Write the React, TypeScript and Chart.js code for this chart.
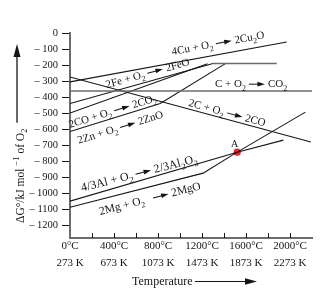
import { useEffect, useRef } from 'react';
import { Chart, registerables } from 'chart.js';

Chart.register(...registerables);

// ΔG° of oxide formation (kJ per mol O2) against temperature (°C), schematic
type Pt = [number, number];
const cuLine: Pt[] = [[0, -305], [1970, -56]];
const feLine: Pt[] = [[0, -440], [1300, -190]];
const feHigh: Pt[] = [[1300, -190], [1880, -190]];
const cToCo2: Pt[] = [[0, -362], [2200, -362]];
const cToCo: Pt[] = [[0, -275], [2190, -680]];
const coToCo2: Pt[] = [[0, -500], [1250, -192]];
const znLine: Pt[] = [[0, -615], [820, -440], [1420, -188]];
const pointA: Pt = [1520, -744];
const alLine: Pt[] = [[0, -1050], pointA, [1940, -669]];
const mgLine: Pt[] = [[0, -1088], [1210, -875], pointA, [2140, -494]];

const minorTicks = [200, 400, 600, 800, 1000, 1200, 1400, 1600, 1800, 2000];
const KELVIN = 273;

const SERIF = '"Liberation Serif", "Times New Roman", serif';
const INK = '#151515';
const GREY = '#6c6c6c';

type Tok = string | { sub: string } | { sup: string } | { arrow: number; pre?: number; post?: number };
const ARROW: Tok = { arrow: 16 };

function drawRich(ctx: CanvasRenderingContext2D, toks: Tok[], size: number) {
  let cx = 0;
  ctx.textAlign = 'left';
  ctx.textBaseline = 'alphabetic';
  for (const t of toks) {
    if (typeof t === 'string') {
      ctx.font = `${size}px ${SERIF}`;
      ctx.fillText(t, cx, 0);
      cx += ctx.measureText(t).width;
    } else if ('sub' in t) {
      ctx.font = `${size * 0.72}px ${SERIF}`;
      ctx.fillText(t.sub, cx, size * 0.3);
      cx += ctx.measureText(t.sub).width;
    } else if ('sup' in t) {
      ctx.font = `${size * 0.75}px ${SERIF}`;
      ctx.fillText(t.sup, cx, -size * 0.4);
      cx += ctx.measureText(t.sup).width;
    } else {
      cx += t.pre ?? 3;
      const ay = -size * 0.3;
      const L = t.arrow;
      ctx.beginPath();
      ctx.moveTo(cx, ay);
      ctx.lineTo(cx + L - 6, ay);
      ctx.lineWidth = 1;
      ctx.stroke();
      ctx.beginPath();
      ctx.moveTo(cx + L, ay);
      ctx.lineTo(cx + L - 7.5, ay - 2.4);
      ctx.lineTo(cx + L - 7.5, ay + 2.4);
      ctx.closePath();
      ctx.fill();
      cx += L + (t.post ?? 3);
    }
  }
  return cx;
}

interface LineLabel {
  line: Pt[];
  seg: number;
  at: number; // temperature where the text starts
  dy: number; // baseline height above the line, px
  size: number;
  adj?: number; // extra rotation, degrees
  toks: Tok[];
}

const lineLabels: LineLabel[] = [
  { line: cuLine, seg: 0, at: 930, dy: 8, size: 11, toks: ['4Cu + O', { sub: '2' }, ARROW, '2Cu', { sub: '2' }, 'O'] },
  { line: feLine, seg: 0, at: 335, dy: 5, size: 11, toks: ['2Fe + O', { sub: '2' }, ARROW, '2FeO'] },
  { line: cToCo2, seg: 0, at: 1318, dy: 3.5, size: 11, toks: ['C + O', { sub: '2' }, ARROW, 'CO', { sub: '2' }] },
  { line: cToCo, seg: 0, at: 1073, dy: 3, size: 11, toks: ['2C + O', { sub: '2' }, ARROW, '2CO'] },
  { line: znLine, seg: 0, at: 0, dy: 3.5, size: 11, toks: ['2CO + O', { sub: '2' }, ARROW, '2CO', { sub: '2' }] },
  { line: znLine, seg: 0, at: 80, dy: -15, size: 11, toks: ['2Zn + O', { sub: '2' }, ARROW, '2ZnO'] },
  { line: alLine, seg: 0, at: 110, dy: 6, size: 12, adj: 2, toks: ['4/3Al + O', { sub: '2' }, ARROW, '2/3Al', { sub: '2' }, 'O', { sub: '3' }] },
  { line: mgLine, seg: 0, at: 275, dy: -15.5, size: 11.5, toks: ['2Mg + O', { sub: '2' }, { arrow: 16, pre: 9 }, '2MgO'] },
];

const annotations = {
  id: 'ellinghamText',
  afterDraw(chart: Chart) {
    const { ctx, chartArea } = chart;
    const x = chart.scales.x;
    const y = chart.scales.y;
    ctx.save();
    ctx.fillStyle = INK;
    ctx.strokeStyle = INK;

    // inward tick marks on the temperature axis
    ctx.lineWidth = 1;
    for (const v of minorTicks) {
      const px = Math.round(x.getPixelForValue(v)) + 0.5;
      ctx.beginPath();
      ctx.moveTo(px, chartArea.bottom);
      ctx.lineTo(px, chartArea.bottom - 5);
      ctx.stroke();
    }

    // reaction labels along their lines
    for (const l of lineLabels) {
      const a = l.line[l.seg];
      const b = l.line[l.seg + 1];
      const ax = x.getPixelForValue(a[0]);
      const ay = y.getPixelForValue(a[1]);
      const bx = x.getPixelForValue(b[0]);
      const by = y.getPixelForValue(b[1]);
      const px = x.getPixelForValue(l.at);
      const py = ay + ((by - ay) * (px - ax)) / (bx - ax);
      const ang = Math.atan2(by - ay, bx - ax) + ((l.adj ?? 0) * Math.PI) / 180;
      ctx.save();
      ctx.translate(px, py - l.dy);
      ctx.rotate(ang);
      drawRich(ctx, l.toks, l.size);
      ctx.restore();
    }

    // point A
    const pa = x.getPixelForValue(pointA[0]);
    const pb = y.getPixelForValue(pointA[1]);
    ctx.font = `10px ${SERIF}`;
    ctx.textAlign = 'center';
    ctx.textBaseline = 'alphabetic';
    ctx.fillText('A', pa - 2.5, pb - 5);

    // vertical axis title with an upward arrow
    ctx.save();
    ctx.translate(24, 223);
    ctx.rotate(-Math.PI / 2);
    const w = drawRich(ctx, ['ΔG°/kJ mol ', { sup: '−1' }, ' of O', { sub: '2' }], 11.5);
    ctx.restore();
    const tail = 223 - w - 6;
    ctx.lineWidth = 1.3;
    ctx.beginPath();
    ctx.moveTo(17, tail);
    ctx.lineTo(17, 54);
    ctx.stroke();
    ctx.beginPath();
    ctx.moveTo(17, 44);
    ctx.lineTo(13.5, 57);
    ctx.lineTo(20.5, 57);
    ctx.closePath();
    ctx.fill();

    // horizontal axis title with a rightward arrow
    ctx.font = `12px ${SERIF}`;
    ctx.textAlign = 'left';
    ctx.fillText('Temperature', 132, 285);
    ctx.lineWidth = 1.2;
    ctx.beginPath();
    ctx.moveTo(195, 281.5);
    ctx.lineTo(248, 281.5);
    ctx.stroke();
    ctx.beginPath();
    ctx.moveTo(257, 281.5);
    ctx.lineTo(245, 278.3);
    ctx.lineTo(245, 284.7);
    ctx.closePath();
    ctx.fill();

    ctx.restore();
  },
};

const toXY = (pts: Pt[]) => pts.map(([t, g]) => ({ x: t, y: g }));

const lineSet = (pts: Pt[], color: string, width: number) => ({
  data: toXY(pts),
  showLine: true,
  borderColor: color,
  borderWidth: width,
  pointRadius: 0,
  fill: false,
  tension: 0,
});

export default function App() {
  const ref = useRef<HTMLCanvasElement | null>(null);

  useEffect(() => {
    if (!ref.current) return;
    const chart = new Chart(ref.current, {
      type: 'scatter',
      data: {
        datasets: [
          lineSet(cToCo2, GREY, 1.6),
          lineSet(feHigh, GREY, 1.6),
          lineSet(cuLine, INK, 1.1),
          lineSet(feLine, INK, 1.1),
          lineSet(cToCo, INK, 1.1),
          lineSet(coToCo2, INK, 1.1),
          lineSet(znLine, INK, 1.1),
          lineSet(alLine, INK, 1.1),
          lineSet(mgLine, INK, 1.1),
          {
            data: toXY([pointA]),
            pointRadius: 3.6,
            pointBackgroundColor: '#ee2026',
            pointBorderWidth: 0,
            showLine: false,
          },
        ],
      },
      options: {
        animation: false,
        responsive: false,
        devicePixelRatio: 1,
        layout: { padding: { top: 33, right: 13, left: 0, bottom: 0 } },
        plugins: { legend: { display: false }, tooltip: { enabled: false } },
        scales: {
          x: {
            type: 'linear',
            min: 0,
            max: 2200,
            afterFit: (s: any) => {
              s.height = 55;
            },
            grid: { display: false },
            border: { display: true, color: GREY, width: 2 },
            ticks: {
              stepSize: 200,
              autoSkip: false,
              maxRotation: 0,
              padding: -8,
              color: INK,
              font: { family: SERIF, size: 11, lineHeight: 1.5 },
              callback: (v: any) => (Number(v) % 400 === 0 ? [`${v}°C`, `${Number(v) + KELVIN} K`] : ''),
            },
          },
          y: {
            type: 'linear',
            min: -1280,
            max: 0,
            afterFit: (s: any) => {
              s.width = 70;
            },
            grid: { drawOnChartArea: false, drawTicks: true, tickLength: 8, color: INK },
            border: { display: true, color: GREY, width: 2 },
            ticks: {
              stepSize: 100,
              includeBounds: false,
              padding: 4,
              color: INK,
              font: { family: SERIF, size: 10.5 },
              callback: (v: any) => (Number(v) === 0 ? '0' : `– ${-Number(v)}`),
            },
          },
        },
      },
      plugins: [annotations],
    });
    return () => chart.destroy();
  }, []);

  return (
    <div style={{ position: 'absolute', left: 0, top: 0, width: 325, height: 293, background: '#fff' }}>
      <canvas ref={ref} width={325} height={293} style={{ display: 'block' }} />
    </div>
  );
}
